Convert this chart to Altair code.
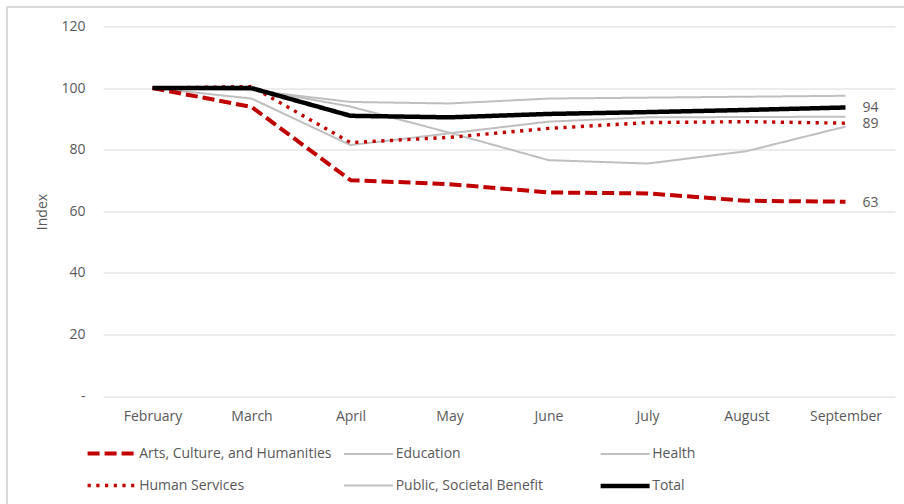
import altair as alt
import pandas as pd

months = ["February", "March", "April", "May", "June", "July", "August", "September"]
series_names = ["Arts, Culture, and Humanities", "Education", "Health",
                "Human Services", "Public, Societal Benefit", "Total"]

arts = [100, 93.9, 70.1, 68.8, 66.1, 65.8, 63.4, 63.1]
education = [100, 99.8, 94.0, 85.5, 76.6, 75.5, 79.5, 87.5]
health = [100, 96.6, 81.5, 85.3, 89.1, 90.5, 90.6, 90.7]
human = [100, 100.5, 82.3, 84.0, 86.9, 88.8, 89.1, 88.6]
public = [100, 99.3, 95.5, 95.0, 96.6, 96.9, 97.2, 97.5]
total = [100, 100, 91.0, 90.5, 91.6, 92.2, 92.9, 93.7]

labelled = ["Arts, Culture, and Humanities", "Human Services", "Total"]

# draw order: grey lines first, then red, then black on top
draw = [("Education", education), ("Health", health),
        ("Public, Societal Benefit", public),
        ("Arts, Culture, and Humanities", arts),
        ("Human Services", human), ("Total", total)]
rows = []
for k, (name, vals) in enumerate(draw):
    for i, (m, v) in enumerate(zip(months, vals)):
        rows.append({"series": name, "month": m, "value": v, "ord": k * 10 + i,
                     "lab": name in labelled and m == "September"})
df = pd.DataFrame(rows)

FONT = "Open Sans"
TXT = "#595959"
RED = "#C00000"
GREY = "#BFBFBF"
FS = 14

x = alt.X("month:N", sort=months, scale=alt.Scale(type="point", padding=0.5),
          axis=alt.Axis(title=None, domain=False, ticks=False, labelAngle=0,
                        labelPadding=13, grid=False))
y = alt.Y("value:Q", scale=alt.Scale(domain=[0, 120]),
          axis=alt.Axis(title="Index", values=[0, 20, 40, 60, 80, 100, 120],
                        domain=False, ticks=False, labelPadding=18,
                        labelExpr="datum.value == 0 ? '-\u00a0\u00a0' : datum.label",
                        titleX=-61, titleY=185, titleAlign="center",
                        titleBaseline="middle", titleAngle=270))

lines = alt.Chart(df).mark_line(strokeJoin="round").encode(
    x=x, y=y,
    color=alt.Color("series:N", sort=series_names,
                    scale=alt.Scale(domain=series_names,
                                    range=[RED, GREY, GREY, RED, GREY, "#000000"]),
                    legend=alt.Legend(title=None, orient="none", legendX=1.6, legendY=419,
                                      direction="horizontal", padding=0,
                                      columns=3, gridAlign="all", symbolType="M-5,0H5",
                                      symbolSize=96, labelFont=FONT, labelFontSize=FS,
                                      labelColor=TXT, rowPadding=14, columnPadding=3.5,
                                      labelOffset=19.6, labelLimit=400,
                                      symbolFillColor="transparent")),
    strokeDash=alt.StrokeDash("series:N", sort=series_names,
                              scale=alt.Scale(domain=series_names,
                                              range=[[12, 5], [1, 0], [1, 0], [3.2, 5.5], [1, 0], [1, 0]])),
    strokeWidth=alt.StrokeWidth("series:N", sort=series_names,
                                scale=alt.Scale(type="ordinal", domain=series_names,
                                                range=[4, 2, 2, 3.4, 2, 4.5])),
    order="ord:Q",
)

end_labels = alt.Chart(df).transform_filter(
    "datum.lab"
).transform_calculate(
    txt="format(round(datum.value), 'd')"
).mark_text(align="left", baseline="middle", dx=17, dy=1, font=FONT, fontSize=FS, color=TXT).encode(
    x=x, y=y, text="txt:N"
)

top_border = alt.Chart(df).mark_rule(color="#D9D9D9", strokeWidth=1.5).encode(
    x=alt.value(-96), x2=alt.value(805), y=alt.value(-19.5))
left_border = alt.Chart(df).mark_rule(color="#D9D9D9", strokeWidth=1.5).encode(
    x=alt.value(-96), y=alt.value(-19.5), y2=alt.value(600))

chart = alt.layer(top_border, left_border, lines, end_labels).properties(
    width=792, height=369.5,
    padding={"left": 103, "top": 26.5, "right": 9, "bottom": 108},
    autosize=alt.AutoSizeParams(type="none"),
    background="white",
).configure_view(stroke=None).configure_axis(
    gridColor="#D9D9D9", gridWidth=1, labelFont=FONT, labelFontSize=FS,
    labelColor=TXT, titleFont=FONT, titleFontSize=FS, titleColor=TXT,
    titleFontWeight="normal",
)

chart.save("out.html", embed_options={"renderer": "svg", "actions": False})
